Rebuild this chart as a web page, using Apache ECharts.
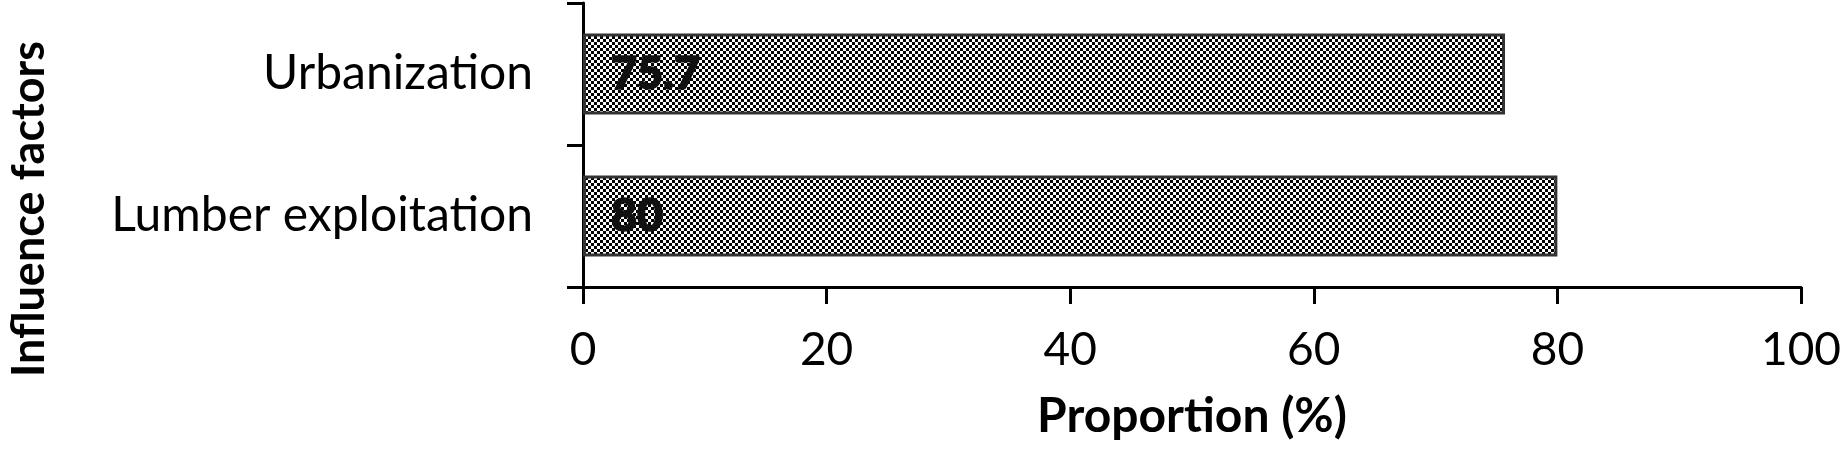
<!DOCTYPE html>
<html>
<head>
<meta charset="utf-8">
<script src="https://cdn.jsdelivr.net/npm/echarts@6/dist/echarts.min.js"></script>
<style>
  html, body { margin: 0; padding: 0; background: #fff; }
  #chart { width: 1844px; height: 455px; }
</style>
</head>
<body>
<div id="chart"></div>
<script>
// data
var factors = ['Lumber exploitation', 'Urbanization']
var proportions = [80, 75.7]
var xTicks = [0, 20, 40, 60, 80, 100]

// checkerboard fill like the original hatched bars
function checker () {
  var c = document.createElement('canvas')
  c.width = 6
  c.height = 6
  var ctx = c.getContext('2d')
  ctx.fillStyle = '#fff'
  ctx.fillRect(0, 0, 6, 6)
  ctx.fillStyle = '#000'
  ctx.fillRect(0, 0, 3, 3)
  ctx.fillRect(3, 3, 3, 3)
  return c
}

var font = 'Lato, "Open Sans", sans-serif'
var chart = echarts.init(document.getElementById('chart'))
chart.setOption({
  animation: false,
  grid: {
    left: 583,
    right: 40,
    top: 3,
    bottom: 168
  },
  xAxis: {
    type: 'value',
    min: xTicks[0],
    max: xTicks[xTicks.length - 1],
    interval: 20,
    name: 'Proportion (%)',
    nameLocation: 'middle',
    nameGap: 106,
    nameTextStyle: { color: '#000', fontSize: 48, fontWeight: 'bold', fontFamily: font },
    axisLine: { show: true, lineStyle: { color: '#000', width: 3 } },
    axisTick: { show: true, length: 17, lineStyle: { color: '#000', width: 3 } },
    axisLabel: { color: '#000', fontSize: 46, fontFamily: font, margin: 40 },
    splitLine: { show: false }
  },
  yAxis: {
    type: 'category',
    data: factors,
    axisLine: { show: true, lineStyle: { color: '#000', width: 3 } },
    axisTick: { show: true, length: 16, lineStyle: { color: '#000', width: 3 } },
    axisLabel: { color: '#000', fontSize: 48, fontFamily: font, margin: 50 }
  },
  graphic: [
    {
      type: 'text',
      x: 29,
      y: 209,
      rotation: Math.PI / 2,
      style: {
        text: 'Influence factors',
        fill: '#000',
        font: 'bold 45px ' + font,
        align: 'center',
        verticalAlign: 'middle'
      }
    }
  ],
  series: [
    {
      type: 'bar',
      data: proportions,
      barWidth: '57%',
      itemStyle: {
        color: { image: checker(), repeat: 'repeat' },
        borderColor: '#333',
        borderWidth: 3
      },
      label: {
        show: true,
        position: 'insideLeft',
        distance: 28,
        color: '#111',
        fontSize: 45,
        fontWeight: 900,
        fontFamily: font,
        textBorderColor: '#111',
        textBorderWidth: 1.5
      }
    }
  ]
})
</script>
</body>
</html>
